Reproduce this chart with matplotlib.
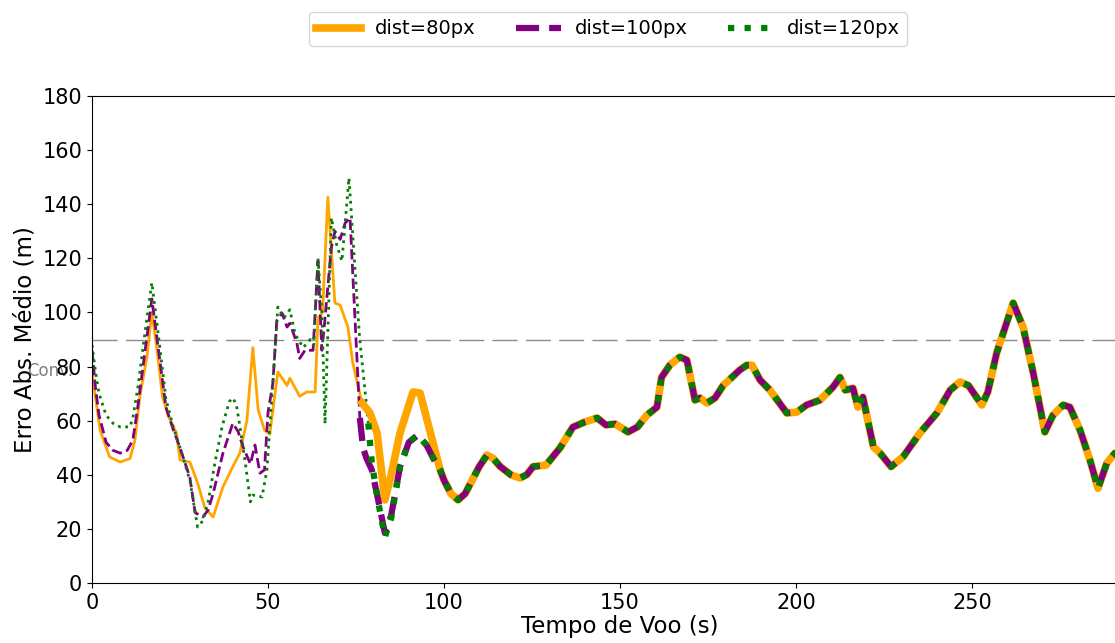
import matplotlib
matplotlib.use("Agg")
import matplotlib.pyplot as plt
import numpy as np

# ---------------- data ----------------
# dist=80px : thin (before convergence) and thick (after)
t80_early = [0, 0.3, 2.3, 5, 8, 10.8, 12.2, 13.6, 15.6, 17, 18.5, 20, 21.6, 24, 25, 27.8, 30, 32,
             34.4, 37.2, 40, 42, 44, 45.7, 47.2, 49, 50.5, 52.8, 55.4, 56.2, 59, 61, 63.4, 64.2,
             65.5, 67, 69, 70.5, 72.7, 74.1, 76.7]
v80_early = [80, 75, 56.5, 46.6, 44.7, 46, 52.8, 69, 83.5, 100, 86, 69, 62, 55.4, 45.5, 44.7, 37, 28,
             24.4, 35.5, 43, 48, 60, 87, 64, 56.5, 55, 78, 73, 75.7, 69, 70.6, 70.6, 98,
             100, 142.6, 103.5, 102.7, 94.6, 81.3, 66.5]
t80_late = [76.7, 79, 81, 83.2, 85, 87.5, 91.2, 93.2, 96.9, 98.9]
v80_late = [66.5, 62.8, 55.4, 30.7, 40, 55.4, 70.6, 70.2, 51.7, 41.8]

# dist=100px
t100_early = [0, 1, 2, 4, 6, 8, 10, 11.6, 13, 15, 17, 19, 21, 23, 25, 27.8, 29.3, 31.5, 33, 34.4,
              37.2, 40, 41.5, 43, 45, 46.3, 47.7, 49, 50, 51.4, 52.5, 54, 55.4, 56.2, 58.2, 59,
              60.5, 62.8, 64.2, 65.3, 66, 68, 69, 70.5, 71.9, 73.3, 74.7, 76.1]
v100_early = [86, 72, 62, 52, 49, 48, 49, 52.8, 65, 85, 105, 85, 65, 57, 50, 39, 26, 24.4, 27, 33,
              48, 59, 56, 50, 44, 51, 40.6, 41.8, 63, 74, 97, 99.8, 94.6, 96, 88.7, 83,
              86, 86, 119, 86, 95, 124, 130, 127, 133, 135, 98, 61]
t100_late = [76.1, 77, 78, 79.5, 81.3, 83.2, 85, 87.5, 90, 92.6, 95, 97, 98.9]
v100_late = [61, 50, 46, 41.8, 30.7, 18.5, 25, 43, 52, 54.7, 51, 46, 41.8]

# dist=120px
t120_early = [0, 1, 2, 4, 6, 8, 10.8, 11.6, 13, 15, 17, 19, 21, 23, 25, 27.8, 30, 31.5, 33, 35,
              37, 39, 40, 41, 42, 43.5, 45, 45.7, 48.3, 49.7, 51, 52.8, 54.5, 56.2, 57.7, 60,
              62, 63, 64.2, 65.3, 66.2, 68, 69.5, 71, 73, 76, 78.5]
v120_early = [88, 78, 70, 62, 59, 57.7, 57.7, 61, 72, 92, 111, 90, 68, 58, 50, 38, 20.7, 23, 30, 45,
              58, 67, 68.4, 66, 58, 45, 30, 32.5, 31.8, 41.8, 67, 102, 98, 101, 92, 87,
              90, 88, 120, 100, 58.8, 135, 125, 119, 149.7, 91, 59]
t120_late = [78.5, 79.5, 81.3, 83.2, 85, 87.5, 90, 92.6, 95, 97, 98.9]
v120_late = [59, 44.3, 30, 17, 24, 43, 52, 54.7, 51, 46, 41.8]

# common converged part (all three series overlap)
t_common = [98.9, 100, 102, 104, 106, 108, 110, 112.2, 114, 116, 119, 121.6, 123.5, 125.3, 129,
            133, 136.6, 140, 143.5, 146, 148.6, 152.3, 155, 157.6, 160.5, 161.8, 164.2, 167, 169,
            171.3, 172.7, 174.7, 177, 179.3, 184, 186, 187.5, 189.8, 192.6, 197.4, 200.3, 203,
            206.8, 210.5, 212.5, 214, 216.2, 217.6, 219, 222, 223.9, 227, 230.4, 235.2, 240,
            243.8, 246.6, 249, 252.8, 254.5, 257, 261.7, 264.5, 267.4, 270.7, 273, 275.9, 277.8,
            280.7, 283.5, 285.8, 288.3, 290.6, 294, 298]
v_common = [41.8, 38, 33, 30.7, 33, 38, 43, 47.3, 46, 43, 40, 38.8, 40, 43, 43.6,
            50, 57.6, 59.5, 61, 58.4, 58.8, 55.8, 57.7, 62, 65, 76, 80.6, 83.5, 82.4,
            67.6, 68.4, 66.5, 68.4, 73, 78.7, 80.5, 80.5, 75, 71.3, 62.8, 63.2, 65.8,
            67.6, 72.4, 76, 71.3, 72, 65, 68.7, 50.3, 48, 43, 46.6, 55.4, 62.8,
            71.3, 74.3, 73, 65.8, 70.6, 85, 103.5, 94.6, 77.6, 55.8, 62, 65.8, 65,
            56.5, 45.5, 35, 44.3, 48, 46, 47]

labels = ["dist=80px", "dist=100px", "dist=120px"]
conv_level = 90

# ---------------- figure ----------------
W, H = 1115, 643
fig = plt.figure(figsize=(W / 100, H / 100), dpi=100)
x0, x1 = 92, 92 + 300 * 3.52
ax = fig.add_axes([x0 / W, (H - 583) / H, (x1 - x0) / W, (583 - 96) / H])

thin, thick = 2.0, 4.5
c80, c100, c120 = "orange", "purple", "green"

ax.plot(t80_early, v80_early, color=c80, lw=thin, ls="-")
ax.plot(t100_early, v100_early, color=c100, lw=thin, ls="--")
ax.plot(t120_early, v120_early, color=c120, lw=thin, ls=":")

ax.plot(t80_late + t_common[1:], v80_late + v_common[1:], color=c80, lw=thick + 1, ls="-",
        label=labels[0])
ax.plot(t100_late + t_common[1:], v100_late + v_common[1:], color=c100, lw=thick, ls="--",
        label=labels[1])
ax.plot(t120_late + t_common[1:], v120_late + v_common[1:], color=c120, lw=thick, ls=":",
        label=labels[2])

ax.axhline(conv_level, color="gray", lw=1.0, ls=(0, (18, 6)), alpha=0.9, zorder=0)
ax.text(-18.5, 78.3, "Conv.", color="gray", fontsize=12, va="center", ha="left", clip_on=False,
        zorder=0)

ax.set_xlim(0, 300)
ax.set_ylim(0, 180)
ax.set_xticks([0, 50, 100, 150, 200, 250])
ax.set_yticks(range(0, 181, 20))
ax.tick_params(labelsize=15)
ax.set_xlabel("Tempo de Voo (s)", fontsize=16.5, labelpad=2)
ax.set_ylabel("Erro Abs. Médio (m)", fontsize=16.5)

fig.legend(loc="upper center", bbox_to_anchor=(608 / W, 1 - 2 / H), ncol=3, fontsize=14,
           frameon=True, columnspacing=2.1, handlelength=2.3, handletextpad=0.7)

fig.savefig("out.png", dpi=100)
